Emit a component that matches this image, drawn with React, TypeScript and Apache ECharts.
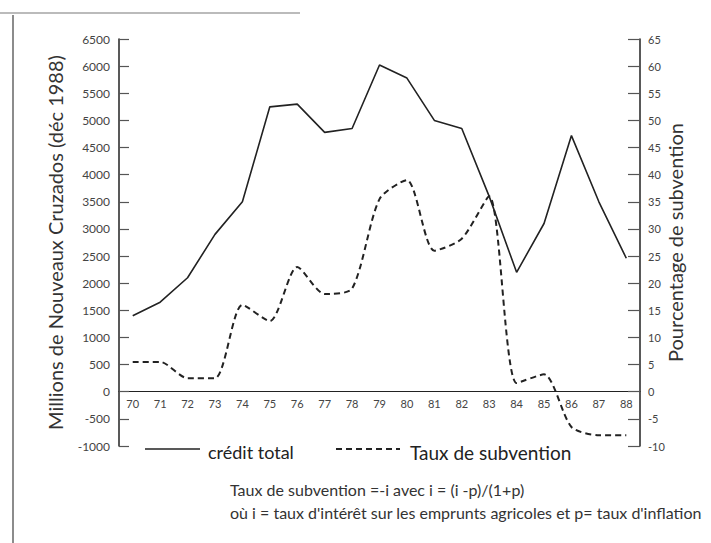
import React, { useEffect, useRef } from "react";
import * as echarts from "echarts";

const years = ["70", "71", "72", "73", "74", "75", "76", "77", "78", "79", "80", "81", "82", "83", "84", "85", "86", "87", "88"];
const creditTotal = [1400, 1650, 2100, 2900, 3500, 5250, 5300, 4780, 4850, 6020, 5780, 5000, 4850, 3600, 2200, 3100, 4720, 3500, 2460];
const tauxSubvention = [5.5, 5.5, 2.5, 2.5, 16, 13, 23, 18, 19, 35.5, 39, 26, 28.2, 36, 1.6, 3.2, -6.5, -8, -8];

const leftAxisName = "Millions de Nouveaux Cruzados (déc 1988)";
const rightAxisName = "Pourcentage de subvention";
const seriesNames = ["crédit total", "Taux de subvention"];
const noteLines = [
  "Taux de subvention =-i avec i = (i -p)/(1+p)",
  "où i = taux d'intérêt sur les emprunts agricoles et p= taux d'inflation",
];

const FONT = "Lato, 'Open Sans', sans-serif";
const INK = "#222";
const GRID_TOP = 39;
const GRID_BOTTOM = 97;
const GRID_H = 543 - GRID_TOP - GRID_BOTTOM;

export default function App() {
  const ref = useRef<HTMLDivElement>(null);
  useEffect(() => {
    if (!ref.current) return;
    const chart = echarts.init(ref.current, null, { renderer: "svg" });
    const zeroOffset = -(GRID_H * 2) / 15;
    chart.setOption({
      animation: false,
      backgroundColor: "#fff",
      textStyle: { fontFamily: FONT },
      grid: { left: 119, right: 71, top: GRID_TOP, bottom: GRID_BOTTOM },
      legend: [
        {
          left: 140,
          top: 438,
          itemWidth: 58,
          itemHeight: 10,
          textStyle: { fontSize: 18, color: INK, fontFamily: FONT },
          data: [{ name: seriesNames[0], icon: "none" }],
        },
        {
          left: 342,
          top: 438,
          itemWidth: 58,
          itemHeight: 10,
          textStyle: { fontSize: 19, color: INK, fontFamily: FONT },
          data: [{ name: seriesNames[1], icon: "none" }],
        },
      ],
      xAxis: {
        type: "category",
        data: years,
        boundaryGap: true,
        offset: zeroOffset,
        axisLine: { onZero: false, lineStyle: { color: INK, width: 1.2 } },
        axisTick: { inside: true, length: 8, lineStyle: { color: INK, width: 1.2 } },
        axisLabel: { fontSize: 11, color: "#444", margin: 6, fontFamily: FONT },
        splitLine: { show: false },
      },
      yAxis: [
        {
          type: "value",
          min: -1000,
          max: 6500,
          interval: 500,
          name: leftAxisName,
          nameLocation: "middle",
          nameRotate: 90,
          nameGap: 54,
          nameMoveOverlap: false,
          nameTextStyle: { fontSize: 20, color: "#333", fontFamily: FONT },
          axisLine: { show: true, lineStyle: { color: INK, width: 1.5 } },
          axisTick: { show: true, inside: true, length: 10, lineStyle: { color: "#555", width: 1.2 } },
          axisLabel: { fontSize: 12, color: "#444", margin: 9, fontFamily: FONT, formatter: (v: number) => String(v) },
          splitLine: { show: false },
        },
        {
          type: "value",
          min: -10,
          max: 65,
          interval: 5,
          name: rightAxisName,
          nameLocation: "middle",
          nameRotate: 90,
          nameGap: 25,
          nameMoveOverlap: false,
          nameTextStyle: { fontSize: 20, color: "#333", fontFamily: FONT },
          axisLine: { show: true, lineStyle: { color: INK, width: 1.5 } },
          axisTick: { show: true, inside: true, length: 12, lineStyle: { color: "#555", width: 1.2 } },
          axisLabel: { fontSize: 11, color: "#444", margin: 8, fontFamily: FONT },
          splitLine: { show: false },
        },
      ],
      series: [
        {
          name: seriesNames[0],
          type: "line",
          yAxisIndex: 0,
          data: creditTotal,
          symbol: "none",
          lineStyle: { color: INK, width: 1.6 },
          itemStyle: { color: INK },
        },
        {
          name: seriesNames[1],
          type: "line",
          yAxisIndex: 1,
          data: tauxSubvention,
          symbol: "none",
          smooth: 0.25,
          lineStyle: { color: INK, width: 2, type: [6, 4] },
          itemStyle: { color: INK },
        },
      ],
      graphic: [
        { type: "line", shape: { x1: 13, y1: 15, x2: 13, y2: 543 }, style: { stroke: "#666", lineWidth: 1.5 } },
        { type: "line", shape: { x1: 0, y1: 13, x2: 300, y2: 13 }, style: { stroke: "#bbb", lineWidth: 2 } },
        { type: "line", shape: { x1: 145, y1: 449, x2: 200, y2: 449 }, style: { stroke: INK, lineWidth: 1.5 } },
        { type: "line", shape: { x1: 336, y1: 449, x2: 400, y2: 449 }, style: { stroke: INK, lineWidth: 2, lineDash: [6, 4] } },
        {
          type: "text",
          left: 230,
          top: 481,
          style: { text: noteLines[0], fontSize: 16, fill: "#333", fontFamily: FONT },
        },
        {
          type: "text",
          left: 230,
          top: 504,
          style: { text: noteLines[1], fontSize: 16, fill: "#333", fontFamily: FONT },
        },
      ],
    });
    return () => chart.dispose();
  }, []);
  return <div ref={ref} style={{ position: "fixed", left: 0, top: 0, width: 711, height: 543 }} />;
}
